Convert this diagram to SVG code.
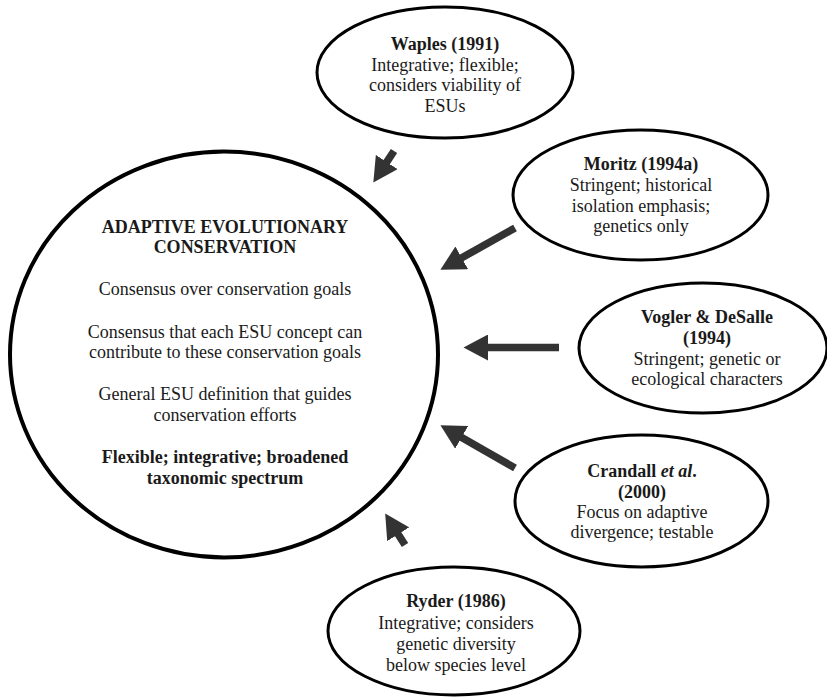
<svg xmlns="http://www.w3.org/2000/svg" width="827" height="697" viewBox="0 0 827 697">
  <style>
    .node { fill: #ffffff; stroke: #000000; stroke-width: 3; }
    .main { fill: #ffffff; stroke: #000000; stroke-width: 4; }
    text { font-family: "Liberation Serif", "Times New Roman", serif; font-size: 18px; fill: #1a1a1a; text-anchor: middle; }
    .b { font-weight: bold; }
    .conn { stroke: #333333; stroke-width: 7.5; fill: none; marker-end: url(#head); }
  </style>
  <defs>
    <marker id="head" markerUnits="userSpaceOnUse" markerWidth="26" markerHeight="26" viewBox="0 0 26 26" refX="1" refY="13" orient="auto">
      <path d="M0,0 L24.5,13 L0,26 Z" fill="#333333"/>
    </marker>
  </defs>
  <rect x="0" y="0" width="827" height="697" fill="#ffffff"/>

  <g id="main">
    <ellipse class="main" cx="224" cy="354.5" rx="214" ry="203"/>
    <text class="b" x="225" y="232.7">ADAPTIVE EVOLUTIONARY</text>
    <text class="b" x="225" y="253">CONSERVATION</text>
    <text x="225" y="295">Consensus over conservation goals</text>
    <text x="225" y="337.5">Consensus that each ESU concept can</text>
    <text x="225" y="358">contribute to these conservation goals</text>
    <text x="225" y="400">General ESU definition that guides</text>
    <text x="225" y="421">conservation efforts</text>
    <text class="b" x="225" y="463">Flexible; integrative; broadened</text>
    <text class="b" x="225" y="484">taxonomic spectrum</text>
  </g>

  <g id="waples">
    <ellipse class="node" cx="445" cy="72.5" rx="128" ry="65.5"/>
    <text class="b" x="445" y="50">Waples (1991)</text>
    <text x="445" y="70.5">Integrative; flexible;</text>
    <text x="445" y="91">considers viability of</text>
    <text x="445" y="111.7">ESUs</text>
  </g>

  <g id="moritz">
    <ellipse class="node" cx="640.5" cy="195" rx="127.5" ry="65"/>
    <text class="b" x="641" y="170">Moritz (1994a)</text>
    <text x="641" y="191">Stringent; historical</text>
    <text x="641" y="212">isolation emphasis;</text>
    <text x="641" y="232">genetics only</text>
  </g>

  <g id="vogler">
    <ellipse class="node" cx="703" cy="348" rx="124" ry="65"/>
    <text class="b" x="707" y="323">Vogler &amp; DeSalle</text>
    <text class="b" x="707" y="344">(1994)</text>
    <text x="707" y="365">Stringent; genetic or</text>
    <text x="707" y="385">ecological characters</text>
  </g>

  <g id="crandall">
    <ellipse class="node" cx="641.5" cy="501" rx="126.5" ry="66"/>
    <text class="b" x="642" y="477">Crandall <tspan font-style="italic">et al</tspan>.</text>
    <text class="b" x="642" y="498">(2000)</text>
    <text x="642" y="518">Focus on adaptive</text>
    <text x="642" y="538">divergence; testable</text>
  </g>

  <g id="ryder">
    <ellipse class="node" cx="454" cy="631" rx="126" ry="64"/>
    <text class="b" x="456" y="607">Ryder (1986)</text>
    <text x="456" y="628.5">Integrative; considers</text>
    <text x="456" y="650">genetic diversity</text>
    <text x="456" y="670.5">below species level</text>
  </g>

  <g id="connectors">
    <line class="conn" x1="394" y1="151" x2="386.2" y2="162.9"/>
    <line class="conn" x1="515" y1="228" x2="460.9" y2="258.3"/>
    <line class="conn" x1="559" y1="347.5" x2="487" y2="347.5"/>
    <line class="conn" x1="515" y1="468" x2="460.8" y2="436.9"/>
    <line class="conn" x1="405" y1="545" x2="397.7" y2="533.4"/>
  </g>
</svg>
